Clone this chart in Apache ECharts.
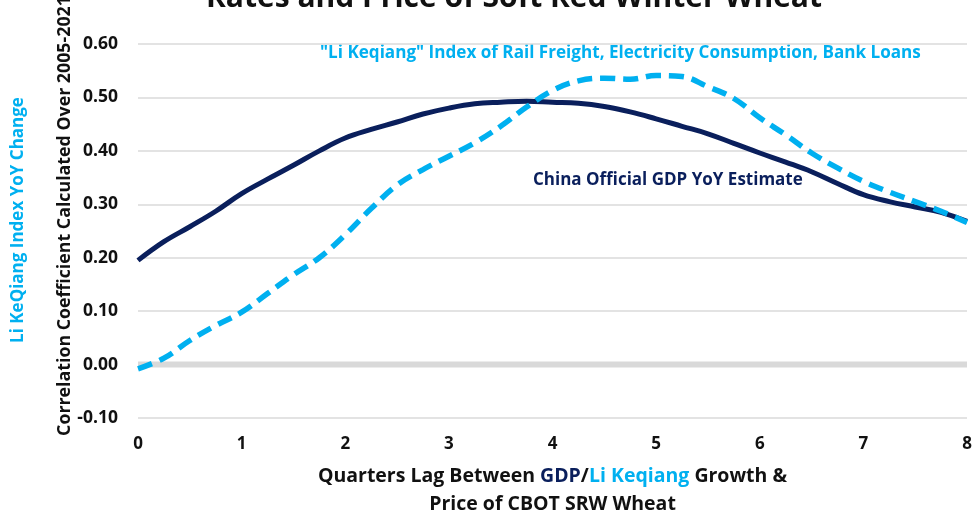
<!DOCTYPE html>
<html>
<head>
<meta charset="utf-8">
<script src="https://cdn.jsdelivr.net/npm/echarts@6/dist/echarts.min.js"></script>
<style>
  html, body { margin: 0; padding: 0; background: #ffffff; }
  #chart { width: 980px; height: 519px; }
</style>
</head>
<body>
<div id="chart"></div>
<script>
// Lag in quarters between GDP / Li Keqiang growth and CBOT SRW wheat price
const lagQuarters = [0, 0.25, 0.5, 0.75, 1, 1.25, 1.5, 1.75, 2, 2.25, 2.5, 2.75, 3, 3.25, 3.5, 3.75,
  4, 4.25, 4.5, 4.75, 5, 5.25, 5.5, 5.75, 6, 6.25, 6.5, 6.75, 7, 7.25, 7.5, 7.75, 8];

// Correlation coefficient, China official GDP YoY estimate
const gdpCorr = [0.195, 0.230, 0.258, 0.287, 0.320, 0.347, 0.373, 0.400, 0.424, 0.440, 0.454, 0.469,
  0.480, 0.488, 0.491, 0.493, 0.491, 0.489, 0.483, 0.473, 0.460, 0.446, 0.432, 0.414, 0.396, 0.379,
  0.361, 0.339, 0.318, 0.305, 0.295, 0.285, 0.268];

// Correlation coefficient, "Li Keqiang" index YoY change
const liCorr = [-0.008, 0.012, 0.045, 0.073, 0.098, 0.133, 0.168, 0.200, 0.243, 0.292, 0.336, 0.365,
  0.390, 0.415, 0.446, 0.482, 0.513, 0.531, 0.536, 0.534, 0.541, 0.539, 0.520, 0.498, 0.462, 0.430,
  0.396, 0.368, 0.343, 0.323, 0.305, 0.287, 0.266];

const yTicks = [-0.1, 0, 0.1, 0.2, 0.3, 0.4, 0.5, 0.6];
const xTicks = [0, 1, 2, 3, 4, 5, 6, 7, 8];

const NAVY = '#0a1f5c';
const SKY = '#00b0f0';
const FONT = '"Open Sans", Lato, sans-serif';

const chart = echarts.init(document.getElementById('chart'), null, { renderer: 'canvas' });

const pair = (ys) => lagQuarters.map((q, i) => [q, ys[i]]);

chart.setOption({
  backgroundColor: '#ffffff',
  animation: false,
  grid: { left: 138, right: 13, top: 44, bottom: 101, containLabel: false, outerBoundsMode: 'none' },
  xAxis: {
    type: 'value',
    min: xTicks[0],
    max: xTicks[xTicks.length - 1],
    interval: 1,
    axisLine: { show: false },
    axisTick: { show: false },
    splitLine: { show: false },
    axisLabel: {
      margin: 18,
      color: '#111111',
      fontFamily: FONT,
      fontWeight: 'bold',
      fontSize: 17
    },
    name: '{k|Quarters Lag Between }{n|GDP}{k|/}{s|Li Keqiang}{k| Growth &}\n{k|Price of CBOT SRW Wheat}',
    nameLocation: 'middle',
    nameGap: 44,
    nameTextStyle: {
      verticalAlign: 'top',
      lineHeight: 28,
      rich: {
        k: { color: '#111111', fontFamily: FONT, fontWeight: 'bold', fontSize: 19.5, lineHeight: 28 },
        n: { color: NAVY, fontFamily: FONT, fontWeight: 'bold', fontSize: 19.5, lineHeight: 28 },
        s: { color: SKY, fontFamily: FONT, fontWeight: 'bold', fontSize: 19.5, lineHeight: 28 }
      }
    }
  },
  yAxis: {
    type: 'value',
    min: yTicks[0],
    max: yTicks[yTicks.length - 1],
    interval: 0.1,
    axisLine: { show: false },
    axisTick: { show: false },
    axisLabel: {
      margin: 20,
      color: '#111111',
      fontFamily: FONT,
      fontWeight: 'bold',
      fontSize: 17.5,
      formatter: (v) => v.toFixed(2)
    },
    splitLine: {
      show: true,
      lineStyle: { color: '#dadada', width: 1.5 }
    }
  },
  series: [
    {
      // heavy zero reference line
      type: 'line',
      data: [[xTicks[0], 0], [xTicks[xTicks.length - 1], 0]],
      symbol: 'none',
      silent: true,
      lineStyle: { color: '#d9d9d9', width: 6 },
      z: 1
    },
    {
      name: 'China Official GDP YoY Estimate',
      type: 'line',
      data: pair(gdpCorr),
      smooth: 0.4,
      symbol: 'none',
      lineStyle: { color: NAVY, width: 5 },
      z: 3
    },
    {
      name: '"Li Keqiang" Index of Rail Freight, Electricity Consumption, Bank Loans',
      type: 'line',
      data: pair(liCorr),
      smooth: 0.4,
      symbol: 'none',
      lineStyle: { color: SKY, width: 5.5, type: [15, 8], cap: 'butt' },
      z: 4
    }
  ],
  graphic: [
    {
      type: 'text',
      x: 514, y: -2,
      style: {
        text: 'Rates and Price of Soft Red Winter Wheat',
        fill: '#111111',
        font: 'bold 30px ' + FONT,
        textAlign: 'center',
        textVerticalAlign: 'middle'
      }
    },
    {
      type: 'text',
      x: 65, y: 216,
      rotation: Math.PI / 2,
      style: {
        text: 'Correlation Coefficient Calculated Over 2005-2021',
        fill: '#111111',
        font: 'bold 17.8px ' + FONT,
        textAlign: 'center',
        textVerticalAlign: 'middle'
      }
    },
    {
      type: 'text',
      x: 18, y: 220,
      rotation: Math.PI / 2,
      style: {
        text: 'Li KeQiang Index YoY Change',
        fill: SKY,
        font: 'bold 17px ' + FONT,
        textAlign: 'center',
        textVerticalAlign: 'middle'
      }
    },
    {
      type: 'text',
      x: 320, y: 53,
      style: {
        text: '"Li Keqiang" Index of Rail Freight, Electricity Consumption, Bank Loans',
        fill: SKY,
        font: 'bold 17.1px ' + FONT,
        textAlign: 'left',
        textVerticalAlign: 'middle'
      }
    },
    {
      type: 'text',
      x: 533, y: 180,
      style: {
        text: 'China Official GDP YoY Estimate',
        fill: NAVY,
        font: 'bold 17px ' + FONT,
        textAlign: 'left',
        textVerticalAlign: 'middle'
      }
    }
  ]
});
</script>
</body>
</html>
